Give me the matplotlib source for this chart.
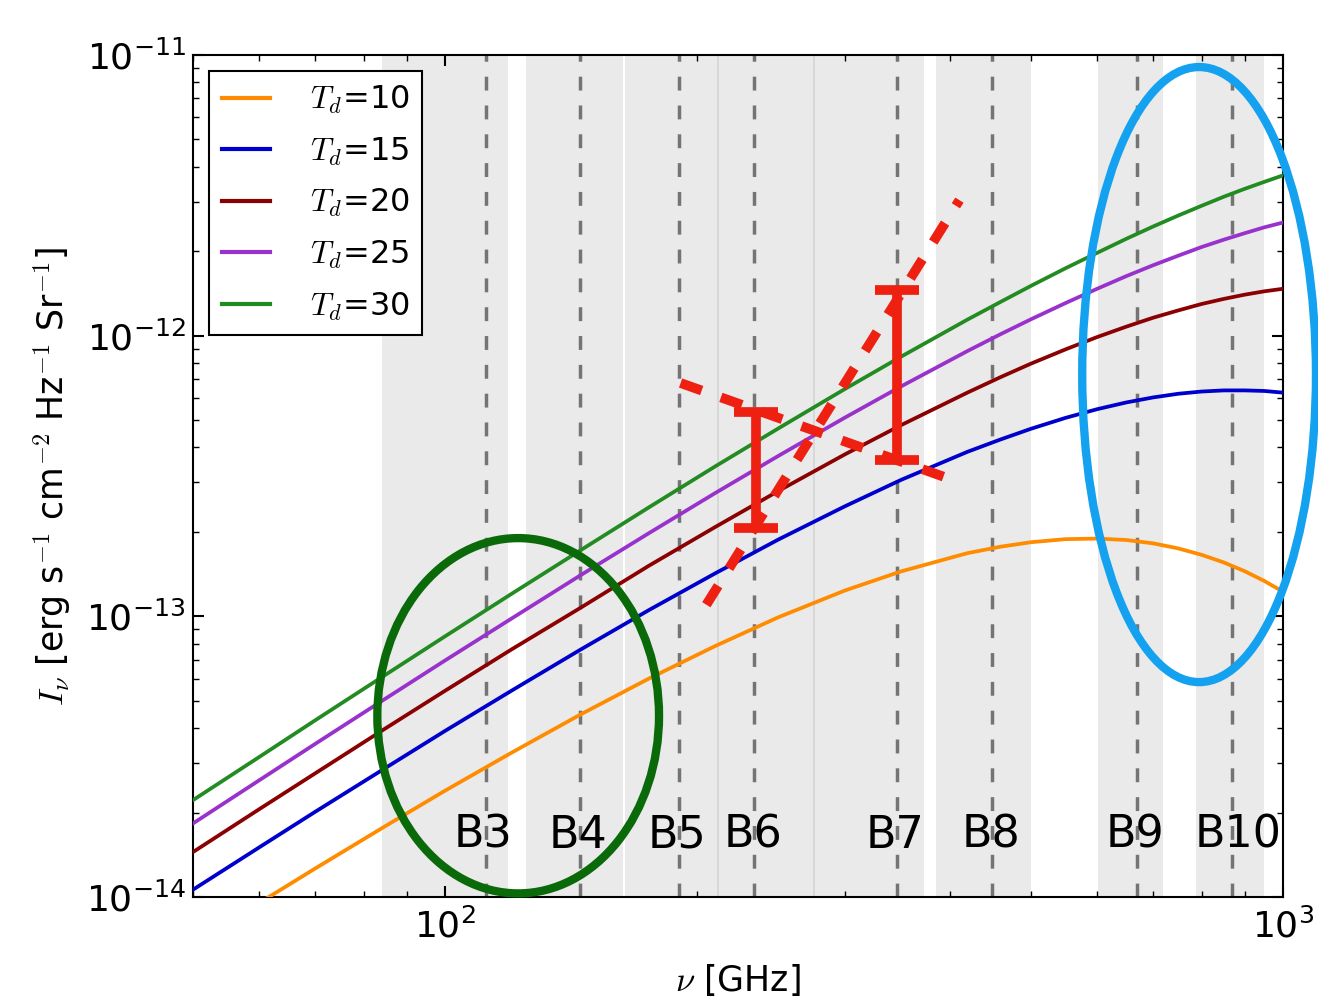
import matplotlib
matplotlib.use("Agg")
import matplotlib.pyplot as plt
import numpy as np
from matplotlib.patches import Ellipse
from matplotlib.ticker import LogLocator, NullFormatter, LogFormatterSciNotation

plt.rcParams['font.family'] = ['DejaVu Sans']
plt.rcParams['mathtext.fontset'] = 'cm'

# frequencies (GHz) where the curves were read
nu = [50, 60, 70, 85, 100, 120, 145, 175, 210, 250, 300, 350, 420, 460, 500,
      550, 600, 650, 700, 750, 800, 850, 900, 950, 1000]

# log10 I_nu [erg s^-1 cm^-2 Hz^-1 Sr^-1] for each dust temperature
log_i_td10 = [-14.168, -14.021, -13.898, -13.746, -13.621, -13.486, -13.350, -13.222, -13.106, -13.003,
              -12.908, -12.840, -12.775, -12.752, -12.736, -12.725, -12.723, -12.728, -12.740, -12.758,
              -12.781, -12.808, -12.839, -12.874, -12.912]
log_i_td15 = [-13.974, -13.823, -13.696, -13.539, -13.408, -13.265, -13.119, -12.978, -12.847, -12.726,
              -12.608, -12.514, -12.414, -12.370, -12.332, -12.293, -12.262, -12.238, -12.220, -12.207,
              -12.199, -12.195, -12.195, -12.197, -12.203]
log_i_td20 = [-13.840, -13.687, -13.559, -13.398, -13.265, -13.118, -12.970, -12.820, -12.682, -12.553,
              -12.423, -12.319, -12.203, -12.148, -12.100, -12.049, -12.005, -11.968, -11.936, -11.910,
              -11.887, -11.869, -11.854, -11.842, -11.833]
log_i_td25 = [-13.738, -13.584, -13.454, -13.292, -13.157, -13.008, -12.854, -12.704, -12.561, -12.428,
              -12.292, -12.181, -12.055, -11.995, -11.942, -11.884, -11.833, -11.788, -11.749, -11.715,
              -11.684, -11.658, -11.635, -11.614, -11.597]
log_i_td30 = [-13.655, -13.501, -13.370, -13.207, -13.071, -12.920, -12.765, -12.612, -12.466, -12.330,
              -12.190, -12.075, -11.943, -11.880, -11.823, -11.760, -11.705, -11.655, -11.611, -11.572,
              -11.537, -11.505, -11.477, -11.452, -11.429]

temps = [10, 15, 20, 25, 30]
curves = [log_i_td10, log_i_td15, log_i_td20, log_i_td25, log_i_td30]
colors = ['darkorange', 'mediumblue', 'darkred', 'darkorchid', 'forestgreen']

# ALMA bands (GHz)
band_names = ['B3', 'B4', 'B5', 'B6', 'B7', 'B8', 'B9', 'B10']
band_lo = [84, 125, 164, 211, 275, 385, 602, 787]
band_hi = [119, 163, 212, 276, 373, 500, 720, 950]
band_ref = [112, 145, 190, 234, 346, 450, 670, 870]
label_nu = [111, 144, 189, 233, 344, 448, 666, 885]

# red hand-drawn marks
err_nu = [235, 346]
err_lo = [2.07e-13, 3.60e-13]
err_hi = [5.35e-13, 1.455e-12]
steep_nu = [205, 411]
steep_i = [1.10e-13, 3.04e-12]
flat_nu = [191, 394]
flat_i = [6.78e-13, 3.14e-13]

# circled regions (nu range, I range)
green_box = ([83, 180], [1.03e-14, 1.90e-13])
blue_box = ([576, 1095], [5.83e-14, 9.06e-12])

red = '#ee2012'

fig = plt.figure(figsize=(13.18, 10), dpi=100)
ax = fig.add_axes([0.1464, 0.103, 0.827, 0.842])
ax.set_xscale('log')
ax.set_yscale('log')
ax.set_xlim(50, 1000)
ax.set_ylim(1e-14, 1e-11)

for lo, hi in zip(band_lo, band_hi):
    ax.axvspan(lo, hi, facecolor='grey', alpha=0.16, lw=0, zorder=0)
for f in band_ref:
    ax.axvline(f, color='k', alpha=0.5, lw=2.5, ls='--', dashes=(4.0, 4.3), zorder=1)

for t, c, col in zip(temps, curves, colors):
    ax.plot(nu, 10 ** np.array(c), color=col, lw=2.7, label=r'$T_d$=%d' % t, zorder=3)

for name, f in zip(band_names, label_nu):
    ax.text(f, 1.66e-14, name, ha='center', va='center', fontsize=32, zorder=4)

# red annotations
ax.errorbar(err_nu, err_lo, yerr=[np.zeros(2), np.array(err_hi) - np.array(err_lo)],
            fmt='none', ecolor=red, elinewidth=7, capsize=15.5, capthick=7, zorder=6)
ax.plot(steep_nu, steep_i, color=red, lw=7, ls='--', dashes=(2.3, 2.1), zorder=6)
ax.plot(flat_nu, flat_i, color=red, lw=7, ls='--', dashes=(2.3, 2.1), zorder=6)


def ellipse_from_box(box, color, lw):
    to_ax = ax.transData + ax.transAxes.inverted()
    (x0, y0), (x1, y1) = to_ax.transform([(box[0][0], box[1][0]), (box[0][1], box[1][1])])
    e = Ellipse(((x0 + x1) / 2, (y0 + y1) / 2), x1 - x0, y1 - y0, transform=ax.transAxes,
                fill=False, edgecolor=color, lw=lw, clip_on=False, zorder=7)
    ax.add_patch(e)


ellipse_from_box(green_box, '#0a6a0a', 6)
ellipse_from_box(blue_box, '#14a2f0', 6)

# axes styling
ax.xaxis.set_major_locator(LogLocator(base=10))
ax.xaxis.set_minor_locator(LogLocator(base=10, subs=np.arange(2, 10)))
ax.xaxis.set_minor_formatter(NullFormatter())
ax.yaxis.set_minor_formatter(NullFormatter())
ax.xaxis.set_major_formatter(LogFormatterSciNotation())
ax.tick_params(which='both', direction='in', top=True, right=True)
ax.tick_params(which='major', length=8, width=1.5, labelsize=26)
ax.tick_params(axis='y', which='major', pad=5)
ax.tick_params(axis='x', which='major', pad=8)
ax.tick_params(which='minor', length=4, width=1.0)
for s in ax.spines.values():
    s.set_linewidth(1.5)

ax.set_xlabel(r'$\nu$ [GHz]', fontsize=25, labelpad=13)
ax.set_ylabel(r'$I_\nu$ [erg s$^{-1}$ cm$^{-2}$ Hz$^{-1}$ Sr$^{-1}$]', fontsize=25, labelpad=9)

leg = ax.legend(loc='upper left', fontsize=23, fancybox=False, framealpha=1, edgecolor='k',
                handlelength=1.5, handletextpad=1.25, labelspacing=0.6, borderaxespad=0.5)
leg.get_frame().set_linewidth(1.5)
for h in leg.get_lines():
    h.set_linewidth(3)
leg.set_zorder(10)

fig.savefig('out.png', dpi=100)
